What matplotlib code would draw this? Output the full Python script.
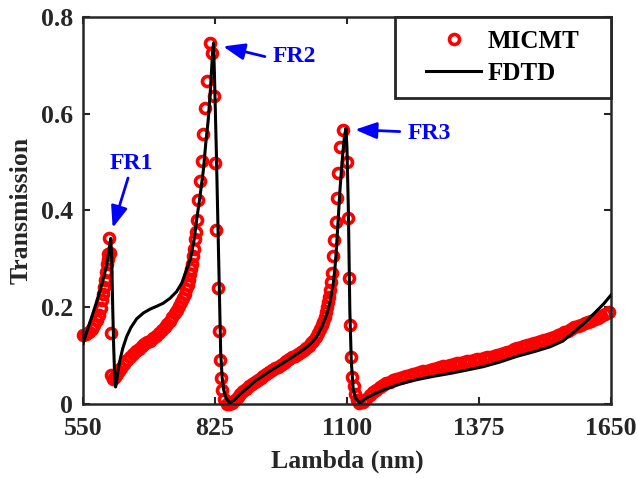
import matplotlib
matplotlib.use("Agg")
import matplotlib.pyplot as plt
import matplotlib.patches as patches

# MICMT model (red circles), wavelength in nm and transmission
mic_wl = [550, 556, 562, 568, 574, 579, 583, 587, 590, 592, 594, 596, 598, 600, 602, 603, 605,
          607, 608, 609,
          612, 616, 620, 625, 630, 636, 642, 648, 654, 660, 666, 672, 678, 684, 690, 696, 702,
          708, 714, 720, 726, 731, 736, 741, 746, 750, 754, 758, 762, 765, 768, 771, 774, 776,
          778, 780, 782, 784, 785, 787,
          790, 794, 797, 801, 804, 808, 815, 818, 823, 825, 828, 831, 833, 835, 838, 840, 844,
          850, 855, 860, 866, 872, 878, 884, 890, 896, 902, 908, 914, 920, 926, 932, 938, 944,
          950, 956, 962, 968, 974, 980, 986, 992, 998, 1004, 1010, 1015, 1020, 1025, 1030,
          1035, 1040, 1044, 1048, 1051, 1054, 1057, 1059, 1061, 1063, 1065, 1067, 1069,
          1071, 1074, 1077, 1080, 1082, 1085, 1091, 1100, 1102, 1104, 1106, 1108, 1111, 1114,
          1117, 1121, 1126,
          1133, 1140, 1147, 1154, 1161, 1168, 1175, 1182, 1189, 1196, 1203, 1210, 1217, 1224,
          1231, 1238, 1245, 1252, 1259, 1266, 1273, 1280, 1287, 1294, 1301, 1308, 1315, 1322,
          1329, 1336, 1343, 1350, 1357, 1364, 1371, 1378, 1385, 1392, 1399, 1406, 1413, 1420,
          1427, 1434, 1441, 1448, 1455, 1462, 1469, 1476, 1483, 1490, 1497, 1504, 1511, 1518,
          1525, 1532, 1539, 1546, 1553, 1560, 1567, 1574, 1581, 1588, 1595, 1602, 1609, 1616,
          1623, 1630, 1637, 1645]
mic_t = [0.142, 0.144, 0.148, 0.155, 0.163, 0.173, 0.184, 0.198, 0.215, 0.228, 0.242, 0.256,
         0.272, 0.290, 0.300, 0.310, 0.343, 0.312, 0.147, 0.060,
         0.052, 0.056, 0.061, 0.068, 0.075, 0.083, 0.090, 0.097, 0.103, 0.109, 0.114, 0.119,
         0.123, 0.127, 0.131, 0.136, 0.141, 0.146, 0.152, 0.158, 0.165, 0.172, 0.179, 0.187,
         0.195, 0.202, 0.210, 0.218, 0.227, 0.237, 0.246, 0.256, 0.268, 0.278, 0.290, 0.305,
         0.320, 0.340, 0.355, 0.380,
         0.422, 0.460, 0.502, 0.557, 0.612, 0.667, 0.746, 0.725, 0.636, 0.498, 0.360, 0.239,
         0.150, 0.091, 0.053, 0.029, 0.010,
         0.000, 0.000, 0.002, 0.008, 0.014, 0.020, 0.026, 0.031, 0.036, 0.041, 0.046, 0.050,
         0.054, 0.058, 0.062, 0.066, 0.070, 0.074, 0.077, 0.081, 0.085, 0.088, 0.092, 0.096,
         0.099, 0.103, 0.107, 0.111, 0.115, 0.120, 0.125, 0.131, 0.138, 0.146, 0.154, 0.163,
         0.170, 0.180, 0.191, 0.200, 0.210, 0.222, 0.235, 0.252, 0.270,
         0.305, 0.339, 0.377, 0.425, 0.477, 0.532, 0.567, 0.501, 0.384, 0.260, 0.163, 0.098,
         0.056, 0.036, 0.020, 0.008, 0.001,
         0.004, 0.011, 0.018, 0.024, 0.029, 0.034, 0.039, 0.043, 0.046, 0.049, 0.052, 0.054,
         0.056, 0.058, 0.060, 0.062, 0.064, 0.066, 0.067, 0.069, 0.071, 0.073, 0.074, 0.076,
         0.078, 0.079, 0.081, 0.082, 0.084, 0.085, 0.086, 0.088, 0.089, 0.090, 0.092, 0.093,
         0.095, 0.096, 0.098, 0.100, 0.102, 0.104, 0.106, 0.108, 0.110, 0.113, 0.115, 0.117,
         0.119, 0.121, 0.123, 0.125, 0.127, 0.130, 0.132, 0.134, 0.137, 0.139, 0.142, 0.145,
         0.148, 0.151, 0.154, 0.158, 0.161, 0.164, 0.167, 0.170, 0.172, 0.175, 0.178, 0.182,
         0.186, 0.190]

# FDTD simulation (black line)
fdtd_wl = [550, 560, 571, 582, 592, 600, 604, 608, 610, 612, 614, 616, 618, 620, 623, 627,
           633, 641, 650, 662, 676, 690, 704, 717, 731, 745, 756, 766, 774, 781, 787, 794,
           801, 806, 811, 815, 818, 820, 822, 824, 826, 828, 831, 834, 837, 840, 843, 848,
           856, 865, 875, 891, 910, 940, 974, 1009, 1025, 1037, 1048, 1058, 1065, 1071, 1075,
           1078, 1082, 1085, 1089, 1092, 1095, 1098, 1100, 1103, 1106, 1109, 1113, 1118, 1127,
           1140, 1160, 1176, 1210, 1245, 1280, 1315, 1350, 1384, 1420, 1453, 1490, 1523, 1550,
           1578, 1600, 1620, 1635, 1650]
fdtd_t = [0.124, 0.155, 0.188, 0.222, 0.256, 0.290, 0.315, 0.342, 0.300, 0.200, 0.120, 0.060,
          0.035, 0.045, 0.068, 0.090, 0.115, 0.139, 0.158, 0.176, 0.188, 0.196, 0.202, 0.208,
          0.218, 0.232, 0.250, 0.278, 0.300, 0.335, 0.381, 0.430, 0.484, 0.540, 0.587, 0.640,
          0.691, 0.725, 0.746, 0.680, 0.600, 0.518, 0.380, 0.243, 0.105, 0.055, 0.030, 0.012,
          0.002, 0.008, 0.018, 0.032, 0.048, 0.068, 0.089, 0.112, 0.125, 0.139, 0.160, 0.185,
          0.212, 0.245, 0.280, 0.320, 0.385, 0.436, 0.490, 0.525, 0.555, 0.570, 0.530, 0.400,
          0.194, 0.090, 0.030, 0.012, 0.002, 0.012, 0.022, 0.029, 0.041, 0.050, 0.057, 0.063,
          0.070, 0.077, 0.087, 0.098, 0.108, 0.118, 0.130, 0.153, 0.172, 0.192, 0.207, 0.225]

x_ticks = [550, 825, 1100, 1375, 1650]
y_ticks = [0, 0.2, 0.4, 0.6, 0.8]
y_labels = ["0", "0.2", "0.4", "0.6", "0.8"]

# resonance labels: text, peak tip, arrow tail, text position
fr_names = ["FR1", "FR2", "FR3"]
fr_tips = [(612, 0.364), (842, 0.739), (1117, 0.567)]
fr_tails = [(644, 0.467), (929, 0.718), (1210, 0.563)]
fr_text = [(650, 0.497), (946, 0.718), (1227, 0.560)]

plt.rcParams['font.family'] = ['Liberation Serif', 'DejaVu Serif']
plt.rcParams['font.weight'] = 'bold'
plt.rcParams['axes.labelweight'] = 'bold'

ink = '#262626'

fig = plt.figure(figsize=(6.38, 4.78), dpi=100)
ax = fig.add_axes([0.130, 0.155, 0.8276, 0.8096])

ax.plot(mic_wl, mic_t, 'o', ms=7.2, mfc='none', mec='red', mew=2.6, clip_on=False,
        label='MICMT', zorder=2)
ax.plot(fdtd_wl, fdtd_t, '-', color='black', lw=2.2, label='FDTD', zorder=3)

ax.set_xlim(550, 1650)
ax.set_ylim(0, 0.8)
ax.set_xticks(x_ticks)
ax.set_yticks(y_ticks)
ax.set_yticklabels(y_labels)
ax.tick_params(direction='in', length=5, width=1.5, top=True, right=True,
               labelsize=18.5, pad=7, colors=ink)
ax.tick_params(axis='x', pad=9.5)
for s in ax.spines.values():
    s.set_linewidth(1.8)
    s.set_color(ink)

ax.set_xlabel('Lambda (nm)', fontsize=18.5, color=ink, labelpad=7)
ax.set_ylabel('Transmission', fontsize=18.5, color=ink, labelpad=6)

for name, tip, tail, pos in zip(fr_names, fr_tips, fr_tails, fr_text):
    ax.annotate('', xy=tip, xytext=tail,
                arrowprops=dict(arrowstyle='-|>,head_length=0.65,head_width=0.25',
                                color='blue', lw=2, mutation_scale=20,
                                shrinkA=0, shrinkB=0))
    ax.text(pos[0], pos[1], name, color='blue', fontsize=17,
            ha='left' if name != 'FR1' else 'center', va='center')

# legend box drawn by hand so it can be wider than its content, like the original
box = patches.Rectangle((0.591, 0.791), 0.409, 0.209, transform=ax.transAxes,
                        fc='white', ec=ink, lw=2, zorder=4, clip_on=False)
ax.add_patch(box)
leg = ax.legend(loc='center', bbox_to_anchor=(0.7955, 0.8955), frameon=False,
                fontsize=18, handlelength=2.2, handletextpad=0.25, labelspacing=0.35)
leg.set_zorder(5)

fig.savefig('out.png', dpi=100)
